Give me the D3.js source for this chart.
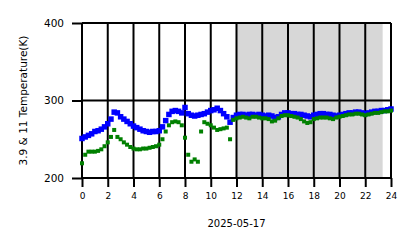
<!DOCTYPE html>
<html>
<head>
<meta charset="utf-8">
<script src="https://cdn.jsdelivr.net/npm/d3@7"></script>
<style>
  body { margin: 0; background: #fff; }
  svg text { font-family: "DejaVu Sans", sans-serif; fill: #000; }
</style>
</head>
<body>
<div id="chart"></div>
<script>
// hours of day, one reading every 15 minutes
const hours = d3.range(0, 24.01, 0.25);

// 3.9 um brightness temperature (K)
const temp39 = [
  251, 253, 255, 257, 260, 261, 263, 266, 270, 276, 285, 284,
  279, 276, 273, 270, 267, 265, 263, 261, 260, 259, 260, 260,
  261, 266, 274, 282, 286, 287, 286, 284, 291, 283, 281, 280,
  281, 282, 283, 285, 287, 288, 290, 287, 283, 279, 272, 278,
  281, 282, 282, 281, 282, 282, 281, 282, 281, 280, 281, 280,
  278, 279, 282, 284, 284, 283, 283, 282, 282, 281, 280, 279,
  281, 282, 283, 283, 282, 282, 281, 280, 281, 282, 283, 284,
  284, 285, 285, 284, 283, 284, 285, 286, 286, 287, 287, 288,
  289
];

// 11 um brightness temperature (K)
const temp11 = [
  219, 230, 234, 234, 234, 235, 237, 241, 246, 253, 262, 253,
  250, 246, 243, 240, 238, 237, 237, 238, 238, 239, 240, 241,
  243, 250, 260, 268, 272, 273, 272, 268, 252, 230, 221, 224,
  221, 260, 272, 270, 268, 265, 262, 263, 264, 265, 250, 275,
  277, 278, 279, 278, 277, 279, 279, 278, 277, 277, 276, 273,
  274, 277, 280, 281, 281, 280, 279, 278, 276, 273, 271, 272,
  276, 277, 278, 278, 278, 277, 276, 278, 279, 280, 281, 282,
  282, 283, 283, 282, 281, 282, 283, 284, 284, 285, 286, 286,
  287
];

const xTicks = d3.range(0, 25, 2);
const yTicks = [200, 300, 400];
const nightSpan = [11.95, 23.35];
const dateLabel = "2025-05-17";
const yLabel = "3.9 & 11 Temperature(K)";

const W = 418, H = 248;
const x = d3.scaleLinear().domain([0, 24]).range([82, 391]);
const y = d3.scaleLinear().domain([200, 400]).range([178, 23]);

const svg = d3.select("#chart").append("svg")
  .attr("width", W).attr("height", H);

// shaded part of the day
svg.append("rect")
  .attr("x", x(nightSpan[0])).attr("y", y(400))
  .attr("width", x(nightSpan[1]) - x(nightSpan[0]))
  .attr("height", y(200) - y(400))
  .attr("fill", "#d7d7d7");

// grid, black and heavy
svg.append("g")
  .selectAll("line").data(xTicks).join("line")
  .attr("x1", d => x(d)).attr("x2", d => x(d))
  .attr("y1", y(400)).attr("y2", y(200))
  .attr("stroke", "#000").attr("stroke-width", 2);

svg.append("g")
  .selectAll("line").data(yTicks).join("line")
  .attr("x1", x(0)).attr("x2", x(24))
  .attr("y1", d => y(d)).attr("y2", d => y(d))
  .attr("stroke", "#000").attr("stroke-width", 2);

// axes
const xAxis = svg.append("g")
  .attr("transform", `translate(0,${y(200)})`)
  .call(d3.axisBottom(x).tickValues(xTicks).tickSize(9).tickPadding(6));
xAxis.select(".domain").remove();
xAxis.selectAll(".tick line").attr("stroke-width", 2);
xAxis.selectAll("text").style("font-size", "9px");

const yAxis = svg.append("g")
  .attr("transform", `translate(${x(0)},0)`)
  .call(d3.axisLeft(y).tickValues(yTicks).tickSize(10).tickPadding(8));
yAxis.select(".domain").remove();
yAxis.selectAll(".tick line").attr("stroke-width", 2);
yAxis.selectAll("text").style("font-size", "10.5px");

svg.append("text")
  .attr("x", x(12)).attr("y", 227)
  .attr("text-anchor", "middle")
  .style("font-size", "10px")
  .text(dateLabel);

svg.append("text")
  .attr("transform", `translate(27,${y(300)}) rotate(-90)`)
  .attr("text-anchor", "middle")
  .style("font-size", "10.5px")
  .text(yLabel);

// markers: blue first, green over it
const drawSeries = (vals, color, sz) => {
  svg.append("g")
    .selectAll("rect").data(hours).join("rect")
    .attr("x", d => x(d) - sz / 2)
    .attr("y", (d, i) => y(vals[i]) - sz / 2)
    .attr("width", sz).attr("height", sz)
    .attr("fill", color);
};
drawSeries(temp39, "#0000ff", 5.5);
drawSeries(temp11, "#008000", 4);
</script>
</body>
</html>
